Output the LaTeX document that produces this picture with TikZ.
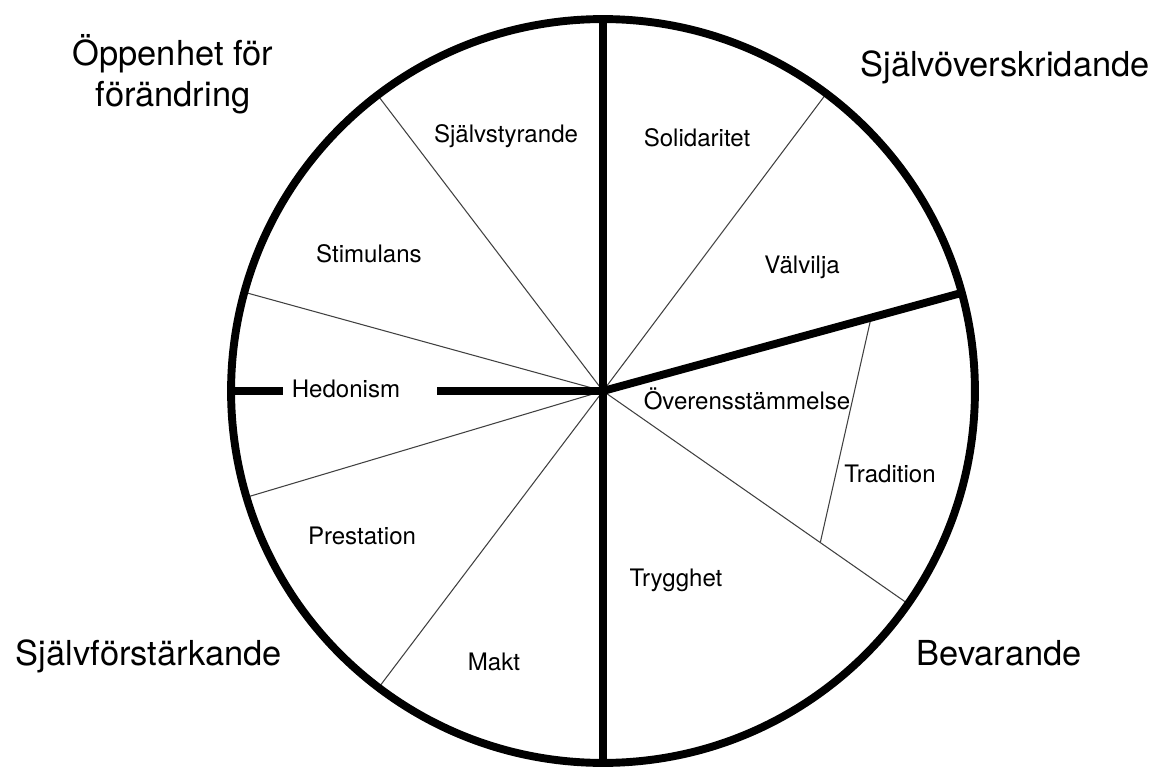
\documentclass[tikz,border=0pt]{standalone}
\usepackage{fontspec}
\setmainfont{TeX Gyre Heros}
\begin{document}
\begin{tikzpicture}[x=0.02cm,y=0.02cm,
  thick line/.style={line width=4.5pt,line cap=butt},
  thin line/.style={line width=0.6pt,draw=black!75},
  inner label/.style={font=\fontsize{13.7}{16}\selectfont,anchor=base,inner sep=0pt},
  outer label/.style={font=\fontsize{19.6}{23.8}\selectfont,anchor=base,inner sep=0pt,align=center}]
\useasboundingbox (0,0) rectangle (1160,-767);
\coordinate (O) at (603,-391);
% points on the circle
\coordinate (top) at ([shift={(90:7.44cm)}]O);
\coordinate (bot) at ([shift={(-90:7.44cm)}]O);
\coordinate (left) at ([shift={(180:7.44cm)}]O);
\coordinate (rthick) at ([shift={(15.3:7.44cm)}]O);
\coordinate (ur) at ([shift={(53.1:7.44cm)}]O);
\coordinate (ul) at ([shift={(127.3:7.44cm)}]O);
\coordinate (l1) at ([shift={(164.6:7.44cm)}]O);
\coordinate (l2) at ([shift={(196.6:7.44cm)}]O);
\coordinate (ll) at ([shift={(232.9:7.44cm)}]O);
\coordinate (lr) at ([shift={(-34.9:7.44cm)}]O);
\coordinate (t1) at ([shift={(15.3:5.56cm)}]O);
\coordinate (t2) at ([shift={(-34.9:5.30cm)}]O);
\coordinate (h1) at (283,-391);
\coordinate (h2) at (437,-391);
% thin dividers
\draw[thin line] (O) -- (ur);
\draw[thin line] (O) -- (ul);
\draw[thin line] (O) -- (l1);
\draw[thin line] (O) -- (l2);
\draw[thin line] (O) -- (ll);
\draw[thin line] (O) -- (lr);
\draw[thin line] (t1) -- (t2);
% thick dividers
\draw[thick line] (top) -- (bot);
\draw[thick line] (O) -- (rthick);
\draw[thick line] (left) -- (h1);
\draw[thick line] (h2) -- (O);
\draw[line width=4.5pt] (O) circle[radius=7.44cm];
% inner labels
\node[inner label] (sjst) at (506,-143) {Självstyrande};
\node[inner label] (stim) at (369,-262) {Stimulans};
\node[inner label] (soli) at (697,-147) {Solidaritet};
\node[inner label] (valv) at (802,-273) {Välvilja};
\node[inner label] (hedo) at (346,-397) {Hedonism};
\node[inner label] (over) at (747,-409) {Överensstämmelse};
\node[inner label] (trad) at (890,-482) {Tradition};
\node[inner label] (pres) at (362,-544) {Prestation};
\node[inner label] (tryg) at (676,-586) {Trygghet};
\node[inner label] (makt) at (494,-670) {Makt};
% outer labels
\node[outer label] (oppen) at (173,-107) {Öppenhet för\\förändring};
\node[outer label] (sjov) at (1005,-77) {Självöverskridande};
\node[outer label] (sjfo) at (149,-665) {Självförstärkande};
\node[outer label] (bev) at (999,-665) {Bevarande};
\end{tikzpicture}
\end{document}
